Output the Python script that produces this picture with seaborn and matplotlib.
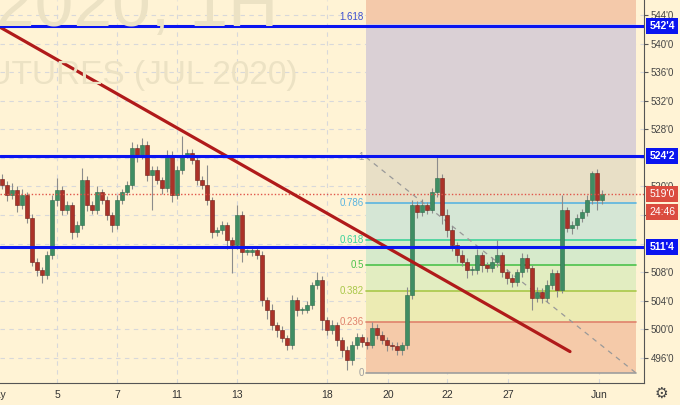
import numpy as np
import seaborn as sns
import matplotlib.pyplot as plt
import matplotlib.transforms as mtransforms

# hourly-ish closes, Corn futures (JUL 2020)
closes = [520.2, 518.8, 519.5, 517.4, 518.8, 515.6, 509.5, 508.3, 507.6, 510.4,
          518.1, 519.5, 516.7, 517.4, 513.6, 514.6, 520.9, 517.4, 516.7, 519.2,
          518.1, 516.0, 514.6, 518.1, 519.2, 520.2, 525.4, 524.4, 525.8, 521.6,
          522.3, 520.9, 519.8, 524.4, 518.8, 522.3, 524.4, 524.7, 523.7, 520.9,
          520.2, 518.1, 513.6, 513.9, 514.6, 512.5, 511.8, 516.0, 510.9, 510.9,
          511.1, 510.4, 504.1, 502.7, 500.6, 499.9, 498.8, 497.8, 504.1, 502.7,
          502.7, 503.4, 506.2, 506.9, 501.3, 499.9, 500.6, 498.5, 497.1, 495.7,
          497.8, 499.0, 498.3, 497.8, 500.2, 499.2, 498.5, 497.8, 497.7, 497.1,
          497.8, 504.8, 517.4, 516.4, 517.4, 516.7, 519.2, 521.2, 516.0, 513.9,
          511.8, 510.4, 509.5, 508.3, 508.3, 510.4, 509.0, 508.6, 509.5, 510.4,
          508.0, 507.2, 506.6, 508.0, 510.0, 508.6, 504.4, 505.3, 504.4, 506.2,
          507.9, 505.5, 516.7, 514.2, 514.6, 515.6, 516.4, 518.1, 521.9, 518.1,
          519.0]
first_open = 521.0
# wick length above / below the body
hi_ext = [0.8, 0.6, 1.0, 0.5, 0.9, 0.4, 0.6, 0.5, 0.4, 0.6,
          0.7, 1.7, 0.5, 0.6, 0.4, 0.6, 1.7, 0.5, 0.6, 0.8,
          0.5, 0.6, 0.4, 0.7, 0.5, 0.6, 0.8, 0.6, 1.0, 0.5,
          0.6, 0.5, 0.4, 0.7, 0.5, 0.6, 2.7, 0.6, 0.5, 0.4,
          0.5, 2.8, 0.4, 0.5, 0.6, 0.4, 0.5, 1.4, 0.6, 0.4,
          0.5, 0.4, 0.6, 0.5, 0.8, 0.5, 0.6, 0.4, 0.7, 0.5,
          0.5, 0.6, 0.5, 1.1, 0.6, 0.5, 0.7, 0.5, 0.4, 0.6,
          0.6, 0.5, 0.4, 0.6, 0.9, 0.5, 0.6, 0.5, 0.4, 0.5,
          0.5, 1.2, 0.7, 0.6, 0.8, 0.5, 0.6, 2.9, 0.5, 0.8,
          0.6, 0.5, 0.7, 0.5, 0.6, 0.9, 0.5, 0.4, 0.6, 2.1,
          0.5, 0.4, 0.6, 0.5, 0.7, 0.6, 0.4, 0.6, 0.5, 0.7,
          0.6, 0.4, 2.1, 0.5, 0.6, 0.5, 0.4, 0.7, 0.2, 0.6, 0.5]
lo_ext = [0.5, 0.8, 0.6, 0.9, 0.5, 0.7, 0.6, 0.8, 1.1, 0.5,
          0.6, 0.8, 0.7, 0.5, 0.9, 0.6, 0.5, 0.8, 0.6, 0.5,
          0.6, 0.7, 0.9, 0.5, 0.6, 0.4, 0.5, 1.0, 0.6, 0.8,
          4.9, 0.6, 0.8, 0.5, 1.0, 0.6, 0.5, 0.4, 0.6, 0.7,
          0.6, 0.7, 0.8, 0.5, 0.6, 1.2, 3.9, 0.6, 1.5, 0.5,
          0.6, 0.5, 0.8, 1.2, 0.7, 1.0, 0.6, 0.7, 0.6, 0.8,
          0.5, 0.4, 0.6, 0.5, 1.4, 0.7, 0.6, 0.8, 1.0, 1.4,
          0.7, 0.5, 0.8, 0.6, 0.4, 0.6, 0.5, 0.8, 0.6, 0.7,
          0.7, 0.5, 0.6, 0.8, 0.5, 0.6, 0.4, 0.7, 1.2, 0.9,
          0.8, 1.0, 0.6, 1.1, 0.7, 0.5, 1.0, 0.6, 0.5, 0.7,
          0.6, 0.8, 0.7, 0.5, 0.6, 0.5, 1.7, 0.6, 0.7, 0.5,
          0.5, 0.9, 0.4, 0.6, 0.8, 0.5, 0.6, 0.5, 0.6, 1.4, 0.6]

day_labels = ['5', '7', '11', '13', '18', '20', '22', '27', 'Jun']
day_pos = [11, 23, 35, 47, 65, 77.2, 89, 101.2, 119.4]

levels = [542.5, 524.25, 511.5]
level_labels = ["542'4", "524'2", "511'4"]
last_price = 519.0

fib_low, fib_high = 493.9, 524.1
fib_ratios = [0, 0.236, 0.382, 0.5, 0.618, 0.786, 1, 1.618]
fib_names = ['0', '0.236', '0.382', '0.5', '0.618', '0.786', '1', '1.618']
fib_line_colors = ['#9e9e9e', '#e0826c', '#a9c84a', '#4cc24c', '#3ed29a', '#5ab4e0', '#9e9e9e', '#2f3cf0']
fib_fill_colors = ['#f5caa9', '#ecebb3', '#e2edc1', '#d6eacb', '#d5e6d5', '#e8dfc6', '#dad0d5', '#f4c9aa']
fib_x0, fib_x1 = 72.8, 126.8

trend_x = [-0.4, 113.6]
trend_y = [542.3, 496.9]

ytick_vals = [496, 500, 504, 508, 516, 520, 528, 532, 536, 540, 544]

bg = '#fff3d5'
sns.set_style('white', {'axes.facecolor': bg, 'figure.facecolor': bg})
plt.rcParams['font.family'] = ['Liberation Sans', 'DejaVu Sans']

fig = plt.figure(figsize=(6.8, 4.05), dpi=100)
ax = fig.add_axes([0, 22 / 405, 644 / 680, 383 / 405])
ax.set_facecolor(bg)

xmin, xmax = -0.4, 128.4
ymin, ymax = 492.5, 546.1
ax.set_xlim(xmin, xmax)
ax.set_ylim(ymin, ymax)

# watermark
fig.text(-4 / 680, 1 - 26 / 405, '2020, 1H', fontsize=50, color='#ece2c4',
         ha='left', va='baseline', zorder=0)
fig.text(298 / 680, 1 - 84 / 405, 'FUTURES (JUL 2020)', fontsize=24, color='#ece2c4',
         ha='right', va='baseline', zorder=0)

# grid
for v in range(496, 545, 4):
    ax.axhline(v, color='#d8d8da', lw=0.8, ls=(0, (4, 4)), zorder=1)
for p in day_pos:
    ax.axvline(p, color='#d8d8da', lw=0.8, ls=(0, (4, 4)), zorder=1)

# fib zones
fy = [fib_low + r * (fib_high - fib_low) for r in fib_ratios]
bounds = fy + [ymax]
for i in range(len(fy)):
    ax.fill_between([fib_x0, fib_x1], bounds[i], bounds[i + 1],
                    color=fib_fill_colors[i], lw=0, zorder=1.5)
for i in range(len(fy) - 1):
    ax.plot([fib_x0, fib_x1], [fy[i], fy[i]], color=fib_line_colors[i], lw=1.2, zorder=2)
    ax.text(fib_x0 - 0.4, fy[i], fib_names[i], color=fib_line_colors[i], fontsize=7,
            ha='right', va='center', zorder=6)
ax.text(fib_x0 - 0.4, fy[-1] + 0.3, fib_names[-1], color='#3c4fd0', fontsize=7,
        ha='right', va='bottom', zorder=6)
ax.plot([fib_x0, fib_x1], [fib_high, fib_low], color='#999999', lw=0.9,
        ls=(0, (4, 4)), zorder=2)

# candles
c = np.array(closes)
o = np.concatenate([[first_open], c[:-1]])
hi = np.maximum(o, c) + np.array(hi_ext)
lo = np.minimum(o, c) - np.array(lo_ext)
x = np.arange(len(c))
up = c >= o
ax.vlines(x, lo, hi, color='#8c8c8c', lw=0.8, zorder=3)
body = np.maximum(np.abs(c - o), 0.15)
ax.bar(x[up], body[up], bottom=np.minimum(o, c)[up], width=0.7,
       color='#3f8d63', edgecolor='#2f6b4a', lw=0.4, zorder=4)
ax.bar(x[~up], body[~up], bottom=np.minimum(o, c)[~up], width=0.7,
       color='#ab3228', edgecolor='#6e1e18', lw=0.4, zorder=4)

# trend line
sns.lineplot(x=trend_x, y=trend_y, color='#b01a1a', lw=2.3, ax=ax, zorder=7)

# current price dotted line
ax.axhline(last_price, color='#e0554a', lw=1, ls=(0, (1, 1.5)), zorder=5)

# horizontal levels
for v in levels:
    ax.axhline(v, color='#0a14f0', lw=2.2, zorder=8)

# axes styling
for s in ['top', 'left']:
    ax.spines[s].set_visible(False)
ax.spines['right'].set_color('#555555')
ax.spines['bottom'].set_color('#555555')
ax.spines['right'].set_linewidth(0.8)
ax.spines['bottom'].set_linewidth(0.8)
ax.yaxis.tick_right()
ax.set_yticks(ytick_vals)
ax.set_yticklabels([f"{v}'0" for v in ytick_vals])
ax.tick_params(axis='y', length=3, width=0.8, color='#555555', labelsize=7,
               labelcolor='#444444', pad=2)
ax.set_xticks(day_pos)
ax.set_xticklabels(day_labels)
ax.tick_params(axis='x', length=0, labelsize=7.5, labelcolor='#333333', pad=5)
ax.text(-1.2, ymin - 1.0, 'May', fontsize=7.5, color='#333333', ha='center',
        va='top', clip_on=False)

# right-side price boxes
trans = mtransforms.blended_transform_factory(ax.transAxes, ax.transData)
box_x = 1.0 + 18 / 644
for v, lab in zip(levels, level_labels):
    ax.text(box_x, v, lab, transform=trans, fontsize=7.5, fontweight='bold', color='white',
            ha='center', va='center', zorder=10, clip_on=False,
            bbox=dict(boxstyle='square,pad=0.3', fc='#0a14f0', ec='none'))
ax.text(box_x, last_price, "519'0", transform=trans, fontsize=7.5, color='white',
        ha='center', va='center', zorder=10, clip_on=False,
        bbox=dict(boxstyle='square,pad=0.3', fc='#db4c3f', ec='none'))
ax.text(box_x, last_price - 2.6, '24:46', transform=trans, fontsize=7.5, color='white',
        ha='center', va='center', zorder=10, clip_on=False,
        bbox=dict(boxstyle='square,pad=0.3', fc='#db4c3f', ec='none'))

fig.text(661 / 680, 12 / 405, '\u2699', fontsize=11, color='#444444',
         ha='center', va='center', family='DejaVu Sans')

fig.savefig('out.png', dpi=100, facecolor=bg)
